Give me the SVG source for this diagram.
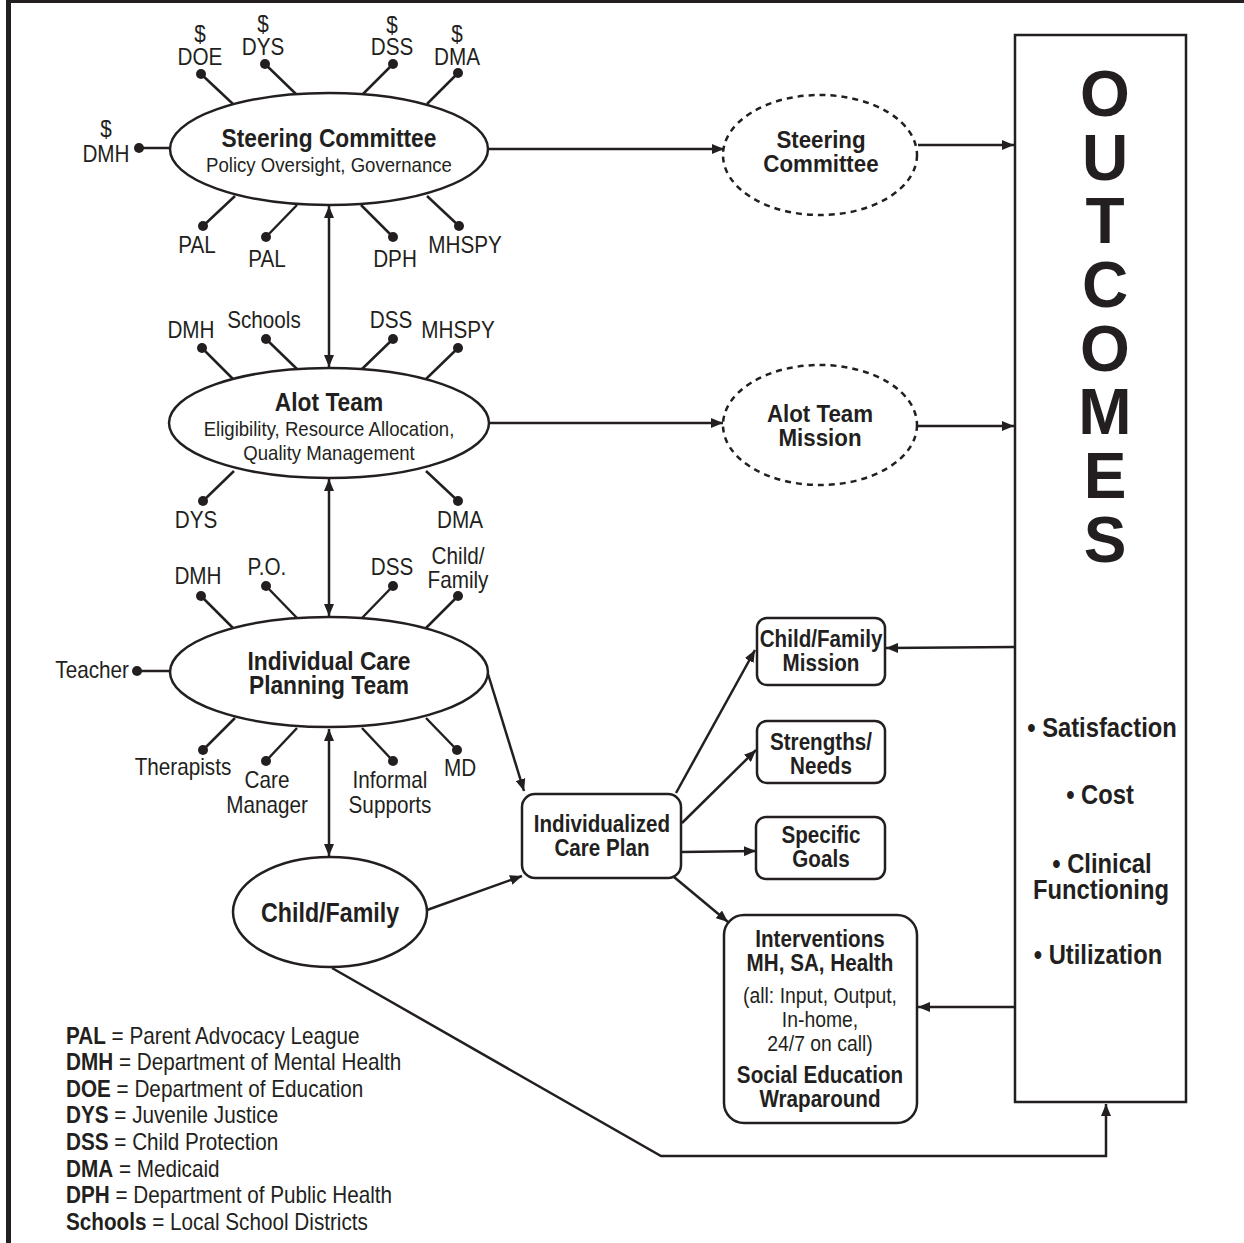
<svg xmlns="http://www.w3.org/2000/svg" width="1244" height="1243" viewBox="0 0 1244 1243">
<defs>
<marker id="ah" viewBox="0 0 12 10" refX="12" refY="5" markerWidth="12" markerHeight="10" markerUnits="userSpaceOnUse" orient="auto-start-reverse"><path d="M0,0 L12,5 L0,10 z" fill="#231f20"/></marker>
<style>
.sh{fill:#fff;stroke:#231f20;stroke-width:2.5}
.dsh{fill:#fff;stroke:#231f20;stroke-width:2.5;stroke-dasharray:6 5}
.ln{fill:none;stroke:#231f20;stroke-width:2.5}
.ar{fill:none;stroke:#231f20;stroke-width:2.5;marker-end:url(#ah)}
.ar2{fill:none;stroke:#231f20;stroke-width:2.5;marker-end:url(#ah);marker-start:url(#ah)}
.dot{fill:#231f20}
text{font-family:"Liberation Sans Narrow","Liberation Sans",Arial,sans-serif;fill:#231f20;transform-box:fill-box;transform-origin:center}
.lb{font-size:23px;text-anchor:middle;transform:scaleX(.9)}
.hb{font-size:25px;font-weight:bold;text-anchor:middle;transform:scaleX(.91)}
.hs{font-size:20px;text-anchor:middle;transform:scaleX(.93)}
.bx{font-size:24px;font-weight:bold;text-anchor:middle;transform:scaleX(.86)}
.de{font-size:24px;font-weight:bold;text-anchor:middle;transform:scaleX(.93)}
.bs{font-size:22px;text-anchor:middle;transform:scaleX(.88)}
.oc{font-size:64px;font-weight:bold;text-anchor:middle}
.ob{font-size:27px;font-weight:bold;text-anchor:middle;transform:scaleX(.88)}
.lg{font-size:23px;transform-origin:left center;transform:scaleX(.9)}
.te{text-anchor:end;transform-origin:right center}
</style>
</defs>
<rect x="0" y="0" width="1244" height="1243" fill="#fff"/>
<rect x="6" y="0" width="1238" height="3" fill="#231f20"/>
<rect x="6" y="0" width="5" height="1243" fill="#231f20"/>

<g id="connectors">
  <line class="ar" x1="488" y1="149" x2="724" y2="149"/>
  <line class="ar" x1="918" y1="145" x2="1014" y2="145"/>
  <line class="ar" x1="488" y1="423" x2="723" y2="423"/>
  <line class="ar" x1="917" y1="426" x2="1014" y2="426"/>
  <line class="ar2" x1="329" y1="206" x2="329" y2="367"/>
  <line class="ar2" x1="329" y1="479" x2="329" y2="616"/>
  <line class="ar2" x1="329" y1="729" x2="329" y2="856"/>
  <line class="ar" x1="488" y1="674" x2="524" y2="791"/>
  <line class="ar" x1="427" y1="910" x2="522" y2="876"/>
  <polyline class="ar" points="332,968 661,1156 1106,1156 1106,1104"/>
  <line class="ar" x1="676" y1="793" x2="755" y2="650"/>
  <line class="ar" x1="682" y1="823" x2="756" y2="750"/>
  <line class="ar" x1="682" y1="852" x2="756" y2="851"/>
  <line class="ar" x1="674" y1="877" x2="728" y2="922"/>
  <line class="ar" x1="1015" y1="647" x2="886" y2="648"/>
  <line class="ar" x1="1015" y1="1007" x2="918" y2="1007"/>
  <g id="spokes">
    <line class="ln" x1="201" y1="74" x2="233" y2="104"/><circle class="dot" cx="201" cy="74" r="5"/>
    <line class="ln" x1="265" y1="64" x2="297" y2="95"/><circle class="dot" cx="265" cy="64" r="5"/>
    <line class="ln" x1="393" y1="64" x2="362" y2="95"/><circle class="dot" cx="393" cy="64" r="5"/>
    <line class="ln" x1="458" y1="73" x2="427" y2="104"/><circle class="dot" cx="458" cy="73" r="5"/>
    <line class="ln" x1="139" y1="148" x2="171" y2="148"/><circle class="dot" cx="139" cy="148" r="5"/>
    <line class="ln" x1="203" y1="226" x2="235" y2="196"/><circle class="dot" cx="203" cy="226" r="5"/>
    <line class="ln" x1="266" y1="237" x2="297" y2="205"/><circle class="dot" cx="266" cy="237" r="5"/>
    <line class="ln" x1="393" y1="237" x2="361" y2="205"/><circle class="dot" cx="393" cy="237" r="5"/>
    <line class="ln" x1="459" y1="226" x2="427" y2="196"/><circle class="dot" cx="459" cy="226" r="5"/>

    <line class="ln" x1="202" y1="348" x2="233" y2="379"/><circle class="dot" cx="202" cy="348" r="5"/>
    <line class="ln" x1="266" y1="339" x2="297" y2="369"/><circle class="dot" cx="266" cy="339" r="5"/>
    <line class="ln" x1="393" y1="339" x2="362" y2="369"/><circle class="dot" cx="393" cy="339" r="5"/>
    <line class="ln" x1="458" y1="348" x2="426" y2="379"/><circle class="dot" cx="458" cy="348" r="5"/>
    <line class="ln" x1="203" y1="501" x2="234" y2="471"/><circle class="dot" cx="203" cy="501" r="5"/>
    <line class="ln" x1="458" y1="501" x2="426" y2="471"/><circle class="dot" cx="458" cy="501" r="5"/>

    <line class="ln" x1="201" y1="596" x2="233" y2="628"/><circle class="dot" cx="201" cy="596" r="5"/>
    <line class="ln" x1="266" y1="586" x2="297" y2="618"/><circle class="dot" cx="266" cy="586" r="5"/>
    <line class="ln" x1="393" y1="586" x2="362" y2="618"/><circle class="dot" cx="393" cy="586" r="5"/>
    <line class="ln" x1="458" y1="596" x2="426" y2="628"/><circle class="dot" cx="458" cy="596" r="5"/>
    <line class="ln" x1="137" y1="671" x2="171" y2="671"/><circle class="dot" cx="137" cy="671" r="5"/>
    <line class="ln" x1="203" y1="750" x2="235" y2="718"/><circle class="dot" cx="203" cy="750" r="5"/>
    <line class="ln" x1="266" y1="761" x2="297" y2="728"/><circle class="dot" cx="266" cy="761" r="5"/>
    <line class="ln" x1="393" y1="761" x2="362" y2="728"/><circle class="dot" cx="393" cy="761" r="5"/>
    <line class="ln" x1="457" y1="750" x2="426" y2="718"/><circle class="dot" cx="457" cy="750" r="5"/>
  </g>
</g>

<g id="steering-committee">
  <ellipse class="sh" cx="329" cy="149" rx="159" ry="56"/>
  <text class="hb" x="329" y="147">Steering Committee</text>
  <text class="hs" x="329" y="172">Policy Oversight, Governance</text>
</g>
<g id="steering-labels">
  <text class="lb" x="200" y="42">$</text><text class="lb" x="200" y="65">DOE</text>
  <text class="lb" x="263" y="32">$</text><text class="lb" x="263" y="55">DYS</text>
  <text class="lb" x="392" y="33">$</text><text class="lb" x="392" y="55">DSS</text>
  <text class="lb" x="457" y="42">$</text><text class="lb" x="457" y="65">DMA</text>
  <text class="lb" x="106" y="137">$</text><text class="lb" x="106" y="162">DMH</text>
  <text class="lb" x="197" y="253">PAL</text>
  <text class="lb" x="267" y="267">PAL</text>
  <text class="lb" x="395" y="267">DPH</text>
  <text class="lb" x="465" y="253">MHSPY</text>
</g>

<g id="alot-team">
  <ellipse class="sh" cx="329" cy="423" rx="160" ry="55"/>
  <text class="hb" x="329" y="411">Alot Team</text>
  <text class="hs" x="329" y="436">Eligibility, Resource Allocation,</text>
  <text class="hs" x="329" y="460">Quality Management</text>
</g>
<g id="alot-labels">
  <text class="lb" x="191" y="338">DMH</text>
  <text class="lb" x="264" y="328">Schools</text>
  <text class="lb" x="391" y="328">DSS</text>
  <text class="lb" x="458" y="338">MHSPY</text>
  <text class="lb" x="196" y="528">DYS</text>
  <text class="lb" x="460" y="528">DMA</text>
</g>

<g id="icpt">
  <ellipse class="sh" cx="329" cy="672" rx="159" ry="55"/>
  <text class="hb" x="329" y="670">Individual Care</text>
  <text class="hb" x="329" y="694">Planning Team</text>
</g>
<g id="icpt-labels">
  <text class="lb" x="198" y="584">DMH</text>
  <text class="lb" x="267" y="575">P.O.</text>
  <text class="lb" x="392" y="575">DSS</text>
  <text class="lb" x="458" y="564">Child/</text>
  <text class="lb" x="458" y="588">Family</text>
  <text class="lb te" x="129" y="678">Teacher</text>
  <text class="lb" x="183" y="775">Therapists</text>
  <text class="lb" x="267" y="788">Care</text>
  <text class="lb" x="267" y="813">Manager</text>
  <text class="lb" x="390" y="788">Informal</text>
  <text class="lb" x="390" y="813">Supports</text>
  <text class="lb" x="460" y="776">MD</text>
</g>

<g id="child-family">
  <ellipse class="sh" cx="330" cy="912" rx="97" ry="55"/>
  <text class="hb" x="330" y="922" style="font-size:28px;transform:scaleX(.83)">Child/Family</text>
</g>

<g id="steering-outcome">
  <ellipse class="dsh" cx="820" cy="155" rx="97" ry="60"/>
  <text class="de" x="821" y="148">Steering</text>
  <text class="de" x="821" y="172">Committee</text>
</g>
<g id="alot-mission">
  <ellipse class="dsh" cx="820" cy="425" rx="97" ry="60"/>
  <text class="de" x="820" y="422">Alot Team</text>
  <text class="de" x="820" y="446">Mission</text>
</g>

<g id="icp">
  <rect class="sh" x="522" y="794" width="159" height="84" rx="13"/>
  <text class="bx" x="602" y="832">Individualized</text>
  <text class="bx" x="602" y="856">Care Plan</text>
</g>
<g id="cf-mission">
  <rect class="sh" x="757" y="618" width="128" height="67" rx="10"/>
  <text class="bx" x="821" y="647">Child/Family</text>
  <text class="bx" x="821" y="671">Mission</text>
</g>
<g id="strengths">
  <rect class="sh" x="757" y="721" width="128" height="62" rx="10"/>
  <text class="bx" x="821" y="750">Strengths/</text>
  <text class="bx" x="821" y="774">Needs</text>
</g>
<g id="goals">
  <rect class="sh" x="756" y="817" width="129" height="62" rx="10"/>
  <text class="bx" x="821" y="843">Specific</text>
  <text class="bx" x="821" y="867">Goals</text>
</g>
<g id="interventions">
  <rect class="sh" x="724" y="915" width="193" height="208" rx="20"/>
  <text class="bx" x="820" y="947">Interventions</text>
  <text class="bx" x="820" y="971">MH, SA, Health</text>
  <text class="bs" x="820" y="1003">(all: Input, Output,</text>
  <text class="bs" x="820" y="1027">In-home,</text>
  <text class="bs" x="820" y="1051">24/7 on call)</text>
  <text class="bx" x="820" y="1083">Social Education</text>
  <text class="bx" x="820" y="1107">Wraparound</text>
</g>

<g id="outcomes">
  <rect x="1015" y="35" width="171" height="1067" fill="#fff" stroke="#231f20" stroke-width="2.5"/>
  <text class="oc" x="1105" y="116">O</text>
  <text class="oc" x="1105" y="180">U</text>
  <text class="oc" x="1105" y="243">T</text>
  <text class="oc" x="1105" y="307">C</text>
  <text class="oc" x="1105" y="371">O</text>
  <text class="oc" x="1105" y="434">M</text>
  <text class="oc" x="1105" y="498">E</text>
  <text class="oc" x="1105" y="562">S</text>
  <text class="ob" x="1102" y="737">• Satisfaction</text>
  <text class="ob" x="1100" y="804">• Cost</text>
  <text class="ob" x="1102" y="873">• Clinical</text>
  <text class="ob" x="1101" y="899">Functioning</text>
  <text class="ob" x="1098" y="964">• Utilization</text>
</g>

<g id="legend">
  <text class="lg" x="66" y="1044"><tspan font-weight="bold">PAL</tspan> = Parent Advocacy League</text>
  <text class="lg" x="66" y="1070"><tspan font-weight="bold">DMH</tspan> = Department of Mental Health</text>
  <text class="lg" x="66" y="1097"><tspan font-weight="bold">DOE</tspan> = Department of Education</text>
  <text class="lg" x="66" y="1123"><tspan font-weight="bold">DYS</tspan> = Juvenile Justice</text>
  <text class="lg" x="66" y="1150"><tspan font-weight="bold">DSS</tspan> = Child Protection</text>
  <text class="lg" x="66" y="1177"><tspan font-weight="bold">DMA</tspan> = Medicaid</text>
  <text class="lg" x="66" y="1203"><tspan font-weight="bold">DPH</tspan> = Department of Public Health</text>
  <text class="lg" x="66" y="1230"><tspan font-weight="bold">Schools</tspan> = Local School Districts</text>
</g>
</svg>
